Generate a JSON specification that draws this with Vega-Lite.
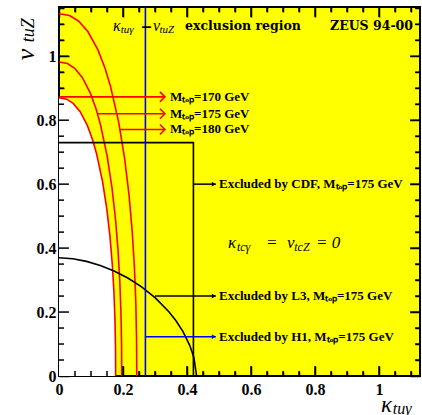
{
  "$schema": "https://vega.github.io/schema/vega-lite/v6.json",
  "width": 361,
  "height": 369,
  "autosize": {"type": "none"},
  "padding": {"left": 59, "top": 7, "right": 2, "bottom": 39},
  "background": "white",
  "config": {
    "view": {"fill": "#ffff00", "stroke": "black", "strokeWidth": 2},
    "axis": {
      "grid": false, "domain": false, "tickColor": "black", "tickWidth": 1.5,
      "labelFont": "Liberation Serif", "labelFontWeight": "bold", "labelFontSize": 16, "labelColor": "black",
      "labelFlush": false, "labelOverlap": false, "zindex": 1, "title": null, "format": "~g"
    }
  },
  "resolve": {"axis": {"x": "independent", "y": "independent"}},
  "datasets": {
    "mtop": [
      {"m": 170, "x": 0.177, "y": 0}, {"m": 170, "x": 0.1766, "y": 0.087}, {"m": 170, "x": 0.1749, "y": 0.174}, {"m": 170, "x": 0.1717, "y": 0.261}, {"m": 170, "x": 0.1666, "y": 0.348}, {"m": 170, "x": 0.1594, "y": 0.435}, {"m": 170, "x": 0.1494, "y": 0.522}, {"m": 170, "x": 0.1359, "y": 0.609}, {"m": 170, "x": 0.1171, "y": 0.696}, {"m": 170, "x": 0.1046, "y": 0.7395}, {"m": 170, "x": 0.0887, "y": 0.783}, {"m": 170, "x": 0.0661, "y": 0.8265}, {"m": 170, "x": 0.0443, "y": 0.8526}, {"m": 170, "x": 0.0241, "y": 0.8657}, {"m": 170, "x": 0, "y": 0.87},
      {"m": 175, "x": 0.196, "y": 0}, {"m": 175, "x": 0.1955, "y": 0.0982}, {"m": 175, "x": 0.1936, "y": 0.1964}, {"m": 175, "x": 0.1901, "y": 0.2946}, {"m": 175, "x": 0.1845, "y": 0.3928}, {"m": 175, "x": 0.1765, "y": 0.491}, {"m": 175, "x": 0.1655, "y": 0.5892}, {"m": 175, "x": 0.1505, "y": 0.6874}, {"m": 175, "x": 0.1297, "y": 0.7856}, {"m": 175, "x": 0.1159, "y": 0.8347}, {"m": 175, "x": 0.0982, "y": 0.8838}, {"m": 175, "x": 0.0732, "y": 0.9329}, {"m": 175, "x": 0.0491, "y": 0.9624}, {"m": 175, "x": 0.0266, "y": 0.9771}, {"m": 175, "x": 0, "y": 0.982},
      {"m": 180, "x": 0.243, "y": 0}, {"m": 180, "x": 0.2424, "y": 0.1133}, {"m": 180, "x": 0.2401, "y": 0.2266}, {"m": 180, "x": 0.2357, "y": 0.3399}, {"m": 180, "x": 0.2287, "y": 0.4532}, {"m": 180, "x": 0.2188, "y": 0.5665}, {"m": 180, "x": 0.2051, "y": 0.6798}, {"m": 180, "x": 0.1866, "y": 0.7931}, {"m": 180, "x": 0.1608, "y": 0.9064}, {"m": 180, "x": 0.1436, "y": 0.9631}, {"m": 180, "x": 0.1217, "y": 1.0197}, {"m": 180, "x": 0.0907, "y": 1.0764}, {"m": 180, "x": 0.0609, "y": 1.1103}, {"m": 180, "x": 0.033, "y": 1.1273}, {"m": 180, "x": 0, "y": 1.133}
    ],
    "l3": [
      {"x": 0, "y": 0.37}, {"x": 0.043, "y": 0.3667}, {"x": 0.086, "y": 0.3585}, {"x": 0.129, "y": 0.3458}, {"x": 0.172, "y": 0.3286}, {"x": 0.215, "y": 0.3065}, {"x": 0.258, "y": 0.2789}, {"x": 0.301, "y": 0.2443}, {"x": 0.344, "y": 0.2001}, {"x": 0.3655, "y": 0.1726}, {"x": 0.387, "y": 0.1395}, {"x": 0.4085, "y": 0.096}, {"x": 0.4214, "y": 0.0581}, {"x": 0.43, "y": 0}
    ],
    "cdf": [
      {"o": 0, "x": 0, "y": 0.73}, {"o": 1, "x": 0.42, "y": 0.73}, {"o": 2, "x": 0.42, "y": 0}
    ],
    "xticks": [
      {"x": 0.2, "y": 0, "y2": 0.031}, {"x": 0.4, "y": 0, "y2": 0.031}, {"x": 0.6, "y": 0, "y2": 0.031}, {"x": 0.8, "y": 0, "y2": 0.031}, {"x": 1, "y": 0, "y2": 0.031},
      {"x": 0.2, "y": 1.154, "y2": 1.123}, {"x": 0.4, "y": 1.154, "y2": 1.123}, {"x": 0.6, "y": 1.154, "y2": 1.123}, {"x": 0.8, "y": 1.154, "y2": 1.123}, {"x": 1, "y": 1.154, "y2": 1.123},
      {"x": 0.05, "y": 0, "y2": 0.0156}, {"x": 0.1, "y": 0, "y2": 0.0156}, {"x": 0.15, "y": 0, "y2": 0.0156}, {"x": 0.25, "y": 0, "y2": 0.0156}, {"x": 0.3, "y": 0, "y2": 0.0156}, {"x": 0.35, "y": 0, "y2": 0.0156}, {"x": 0.45, "y": 0, "y2": 0.0156}, {"x": 0.5, "y": 0, "y2": 0.0156}, {"x": 0.55, "y": 0, "y2": 0.0156}, {"x": 0.65, "y": 0, "y2": 0.0156}, {"x": 0.7, "y": 0, "y2": 0.0156}, {"x": 0.75, "y": 0, "y2": 0.0156}, {"x": 0.85, "y": 0, "y2": 0.0156}, {"x": 0.9, "y": 0, "y2": 0.0156}, {"x": 0.95, "y": 0, "y2": 0.0156}, {"x": 1.05, "y": 0, "y2": 0.0156}, {"x": 1.1, "y": 0, "y2": 0.0156},
      {"x": 0.05, "y": 1.154, "y2": 1.1384}, {"x": 0.1, "y": 1.154, "y2": 1.1384}, {"x": 0.15, "y": 1.154, "y2": 1.1384}, {"x": 0.25, "y": 1.154, "y2": 1.1384}, {"x": 0.3, "y": 1.154, "y2": 1.1384}, {"x": 0.35, "y": 1.154, "y2": 1.1384}, {"x": 0.45, "y": 1.154, "y2": 1.1384}, {"x": 0.5, "y": 1.154, "y2": 1.1384}, {"x": 0.55, "y": 1.154, "y2": 1.1384}, {"x": 0.65, "y": 1.154, "y2": 1.1384}, {"x": 0.7, "y": 1.154, "y2": 1.1384}, {"x": 0.75, "y": 1.154, "y2": 1.1384}, {"x": 0.85, "y": 1.154, "y2": 1.1384}, {"x": 0.9, "y": 1.154, "y2": 1.1384}, {"x": 0.95, "y": 1.154, "y2": 1.1384}, {"x": 1.05, "y": 1.154, "y2": 1.1384}, {"x": 1.1, "y": 1.154, "y2": 1.1384}
    ],
    "yticks": [
      {"y": 0.2, "x": 0, "x2": 0.031}, {"y": 0.4, "x": 0, "x2": 0.031}, {"y": 0.6, "x": 0, "x2": 0.031}, {"y": 0.8, "x": 0, "x2": 0.031}, {"y": 1, "x": 0, "x2": 0.031},
      {"y": 0.2, "x": 1.128, "x2": 1.097}, {"y": 0.4, "x": 1.128, "x2": 1.097}, {"y": 0.6, "x": 1.128, "x2": 1.097}, {"y": 0.8, "x": 1.128, "x2": 1.097}, {"y": 1, "x": 1.128, "x2": 1.097},
      {"y": 0.05, "x": 0, "x2": 0.0156}, {"y": 0.1, "x": 0, "x2": 0.0156}, {"y": 0.15, "x": 0, "x2": 0.0156}, {"y": 0.25, "x": 0, "x2": 0.0156}, {"y": 0.3, "x": 0, "x2": 0.0156}, {"y": 0.35, "x": 0, "x2": 0.0156}, {"y": 0.45, "x": 0, "x2": 0.0156}, {"y": 0.5, "x": 0, "x2": 0.0156}, {"y": 0.55, "x": 0, "x2": 0.0156}, {"y": 0.65, "x": 0, "x2": 0.0156}, {"y": 0.7, "x": 0, "x2": 0.0156}, {"y": 0.75, "x": 0, "x2": 0.0156}, {"y": 0.85, "x": 0, "x2": 0.0156}, {"y": 0.9, "x": 0, "x2": 0.0156}, {"y": 0.95, "x": 0, "x2": 0.0156}, {"y": 1.05, "x": 0, "x2": 0.0156}, {"y": 1.1, "x": 0, "x2": 0.0156}, {"y": 1.15, "x": 0, "x2": 0.0156},
      {"y": 0.05, "x": 1.128, "x2": 1.1124}, {"y": 0.1, "x": 1.128, "x2": 1.1124}, {"y": 0.15, "x": 1.128, "x2": 1.1124}, {"y": 0.25, "x": 1.128, "x2": 1.1124}, {"y": 0.3, "x": 1.128, "x2": 1.1124}, {"y": 0.35, "x": 1.128, "x2": 1.1124}, {"y": 0.45, "x": 1.128, "x2": 1.1124}, {"y": 0.5, "x": 1.128, "x2": 1.1124}, {"y": 0.55, "x": 1.128, "x2": 1.1124}, {"y": 0.65, "x": 1.128, "x2": 1.1124}, {"y": 0.7, "x": 1.128, "x2": 1.1124}, {"y": 0.75, "x": 1.128, "x2": 1.1124}, {"y": 0.85, "x": 1.128, "x2": 1.1124}, {"y": 0.9, "x": 1.128, "x2": 1.1124}, {"y": 0.95, "x": 1.128, "x2": 1.1124}, {"y": 1.05, "x": 1.128, "x2": 1.1124}, {"y": 1.1, "x": 1.128, "x2": 1.1124}, {"y": 1.15, "x": 1.128, "x2": 1.1124}
    ]
  },
  "encoding": {
    "x": {"field": "x", "type": "quantitative", "scale": {"domain": [0, 1.128], "nice": false, "zero": false}, "axis": null},
    "y": {"field": "y", "type": "quantitative", "scale": {"domain": [0, 1.154], "nice": false, "zero": false}, "axis": null}
  },
  "layer": [
    {
      "data": {"name": "mtop"},
      "transform": [{"filter": "datum.m == 170"}],
      "mark": {"type": "area", "color": "white"},
      "encoding": {
        "x": {"field": "x", "type": "quantitative", "scale": {"domain": [0, 1.128], "nice": false, "zero": false},
          "axis": {"orient": "bottom", "offset": -10, "values": [0, 0.2, 0.4, 0.6, 0.8, 1], "tickSize": 10, "labelPadding": 5}},
        "y": {"field": "y", "type": "quantitative", "scale": {"domain": [0, 1.154], "nice": false, "zero": false},
          "axis": {"orient": "left", "offset": -10, "values": [0, 0.2, 0.4, 0.6, 0.8, 1], "tickSize": 10, "labelPadding": 3}},
        "y2": {"datum": 0}
      }
    },
    {
      "data": {"name": "mtop"},
      "mark": {"type": "line", "color": "#ff0000", "strokeWidth": 1.6},
      "encoding": {
        "detail": {"field": "m"},
        "x": {"field": "x", "type": "quantitative", "scale": {"domain": [0, 1.128], "nice": false, "zero": false},
          "axis": {"orient": "bottom", "offset": -5, "labels": false, "values": [0.05, 0.1, 0.15, 0.25, 0.3, 0.35, 0.45, 0.5, 0.55, 0.65, 0.7, 0.75, 0.85, 0.9, 0.95, 1.05, 1.1], "tickSize": 5}},
        "y": {"field": "y", "type": "quantitative", "scale": {"domain": [0, 1.154], "nice": false, "zero": false},
          "axis": {"orient": "left", "offset": -5, "labels": false, "values": [0.05, 0.1, 0.15, 0.25, 0.3, 0.35, 0.45, 0.5, 0.55, 0.65, 0.7, 0.75, 0.85, 0.9, 0.95, 1.05, 1.1, 1.15], "tickSize": 5}}
      }
    },
    {
      "data": {"name": "l3"},
      "mark": {"type": "line", "color": "black", "strokeWidth": 1.6},
      "encoding": {
        "x": {"field": "x", "type": "quantitative", "scale": {"domain": [0, 1.128], "nice": false, "zero": false},
          "axis": {"orient": "top", "offset": -10, "labels": false, "values": [0, 0.2, 0.4, 0.6, 0.8, 1], "tickSize": 10}},
        "y": {"field": "y", "type": "quantitative", "scale": {"domain": [0, 1.154], "nice": false, "zero": false},
          "axis": {"orient": "right", "offset": -10, "labels": false, "values": [0, 0.2, 0.4, 0.6, 0.8, 1], "tickSize": 10}}
      }
    },
    {
      "data": {"name": "cdf"},
      "mark": {"type": "line", "color": "black", "strokeWidth": 1.6},
      "encoding": {
        "order": {"field": "o"},
        "x": {"field": "x", "type": "quantitative", "scale": {"domain": [0, 1.128], "nice": false, "zero": false},
          "axis": {"orient": "top", "offset": -5, "labels": false, "values": [0.05, 0.1, 0.15, 0.25, 0.3, 0.35, 0.45, 0.5, 0.55, 0.65, 0.7, 0.75, 0.85, 0.9, 0.95, 1.05, 1.1], "tickSize": 5}},
        "y": {"field": "y", "type": "quantitative", "scale": {"domain": [0, 1.154], "nice": false, "zero": false},
          "axis": {"orient": "right", "offset": -5, "labels": false, "values": [0.05, 0.1, 0.15, 0.25, 0.3, 0.35, 0.45, 0.5, 0.55, 0.65, 0.7, 0.75, 0.85, 0.9, 0.95, 1.05, 1.1, 1.15], "tickSize": 5}}
      }
    },
    {
      "data": {"name": "xticks"},
      "mark": {"type": "rule", "color": "black", "strokeWidth": 1.5},
      "encoding": {"y2": {"field": "y2"}}
    },
    {
      "data": {"name": "yticks"},
      "mark": {"type": "rule", "color": "black", "strokeWidth": 1.5},
      "encoding": {"x2": {"field": "x2"}}
    },
    {
      "data": {"values": [{"x": 0.27, "y": 0, "y2": 1.154}]},
      "mark": {"type": "rule", "color": "#0000ff", "strokeWidth": 1.6},
      "encoding": {"y2": {"field": "y2"}}
    },
    {
      "data": {"values": [{"x": 0, "x2": 0.331, "y": 0.873}, {"x": 0.12, "x2": 0.331, "y": 0.82}, {"x": 0.19, "x2": 0.331, "y": 0.771}]},
      "layer": [
        {"mark": {"type": "rule", "color": "#ff0000", "strokeWidth": 1.6}, "encoding": {"x2": {"field": "x2"}}},
        {"mark": {"type": "point", "shape": "M-1,-1L0,0L-1,1", "filled": false, "stroke": "#ff0000", "strokeWidth": 1.6, "size": 100, "opacity": 1},
          "encoding": {"x": {"field": "x2", "type": "quantitative", "axis": null}}}
      ]
    },
    {
      "data": {"values": [{"x": 0.42, "x2": 0.49, "y": 0.6}, {"x": 0.3, "x2": 0.49, "y": 0.25}]},
      "layer": [
        {"mark": {"type": "rule", "color": "black", "strokeWidth": 1.5}, "encoding": {"x2": {"field": "x2"}}},
        {"mark": {"type": "point", "shape": "M-1,-0.6L0,0L-1,0.6Z", "filled": true, "color": "black", "size": 64, "opacity": 1},
          "encoding": {"x": {"field": "x2", "type": "quantitative", "axis": null}}}
      ]
    },
    {
      "data": {"values": [{"x": 0.27, "x2": 0.49, "y": 0.123}]},
      "layer": [
        {"mark": {"type": "rule", "color": "#0000ff", "strokeWidth": 1.5}, "encoding": {"x2": {"field": "x2"}}},
        {"mark": {"type": "point", "shape": "M-1,-0.6L0,0L-1,0.6Z", "filled": true, "color": "#0000ff", "size": 64, "opacity": 1},
          "encoding": {"x": {"field": "x2", "type": "quantitative", "axis": null}}}
      ]
    },
    {
      "data": {"values": [
        {"x": 0.347, "y": 0.873, "t": "Mₜₒₚ=170 GeV"},
        {"x": 0.347, "y": 0.82, "t": "Mₜₒₚ=175 GeV"},
        {"x": 0.347, "y": 0.771, "t": "Mₜₒₚ=180 GeV"},
        {"x": 0.5, "y": 0.6, "t": "Excluded by CDF, Mₜₒₚ=175 GeV"},
        {"x": 0.5, "y": 0.25, "t": "Excluded by L3,  Mₜₒₚ=175 GeV"},
        {"x": 0.5, "y": 0.123, "t": "Excluded by H1,  Mₜₒₚ=175 GeV"}
      ]},
      "mark": {"type": "text", "align": "left", "baseline": "middle", "font": "Liberation Serif", "fontWeight": "bold", "fontSize": 13, "color": "black"},
      "encoding": {"text": {"field": "t"}}
    },
    {
      "data": {"values": [
        {"x": 0.394, "y": 1.094, "t": "exclusion region"},
        {"x": 0.847, "y": 1.094, "t": "ZEUS 94-00"}
      ]},
      "mark": {"type": "text", "align": "left", "baseline": "middle", "font": "DejaVu Serif", "fontWeight": "bold", "fontSize": 12.5, "color": "black"},
      "encoding": {"text": {"field": "t"}}
    },
    {
      "data": {"values": [{"x": 0.258, "y": 1.092, "t": "–"}]},
      "mark": {"type": "text", "align": "left", "baseline": "middle", "font": "Liberation Sans", "fontWeight": "bold", "fontSize": 18, "color": "black"},
      "encoding": {"text": {"field": "t"}}
    },
    {
      "data": {"values": [{"x": 0.169, "y": 1.094, "t": "κ"}, {"x": 0.294, "y": 1.094, "t": "v"}]},
      "mark": {"type": "text", "align": "left", "baseline": "middle", "font": "Liberation Serif", "fontStyle": "italic", "fontSize": 16, "color": "black"},
      "encoding": {"text": {"field": "t"}}
    },
    {
      "data": {"values": [{"x": 0.193, "y": 1.082, "t": "tuγ"}, {"x": 0.314, "y": 1.082, "t": "tuZ"}]},
      "mark": {"type": "text", "align": "left", "baseline": "middle", "font": "Liberation Serif", "fontStyle": "italic", "fontSize": 11, "color": "black"},
      "encoding": {"text": {"field": "t"}}
    },
    {
      "data": {"values": [{"x": 0.528, "y": 0.416, "t": "κ"}, {"x": 0.647, "y": 0.416, "t": "="}, {"x": 0.7125, "y": 0.416, "t": "v"}, {"x": 0.803, "y": 0.416, "t": "= 0"}]},
      "mark": {"type": "text", "align": "left", "baseline": "middle", "font": "Liberation Serif", "fontStyle": "italic", "fontSize": 17, "color": "black"},
      "encoding": {"text": {"field": "t"}}
    },
    {
      "data": {"values": [{"x": 0.556, "y": 0.402, "t": "tcγ"}, {"x": 0.735, "y": 0.402, "t": "tcZ"}]},
      "mark": {"type": "text", "align": "left", "baseline": "middle", "font": "Liberation Serif", "fontStyle": "italic", "fontSize": 12, "color": "black"},
      "encoding": {"text": {"field": "t"}}
    },
    {
      "data": {"values": [{"x": 1.006, "y": -0.092, "t": "κ"}]},
      "mark": {"type": "text", "align": "left", "baseline": "middle", "font": "Liberation Serif", "fontStyle": "italic", "fontSize": 23, "color": "black"},
      "encoding": {"text": {"field": "t"}}
    },
    {
      "data": {"values": [{"x": 1.043, "y": -0.102, "t": "tuγ"}]},
      "mark": {"type": "text", "align": "left", "baseline": "middle", "font": "Liberation Serif", "fontStyle": "italic", "fontSize": 16, "color": "black"},
      "encoding": {"text": {"field": "t"}}
    },
    {
      "data": {"values": [{"x": -0.103, "y": 0.9875, "t": "v"}]},
      "mark": {"type": "text", "align": "left", "baseline": "middle", "angle": 270, "font": "Liberation Serif", "fontStyle": "italic", "fontSize": 26, "color": "black"},
      "encoding": {"text": {"field": "t"}}
    },
    {
      "data": {"values": [{"x": -0.094, "y": 1.044, "t": "tuZ"}]},
      "mark": {"type": "text", "align": "left", "baseline": "middle", "angle": 270, "font": "Liberation Serif", "fontStyle": "italic", "fontSize": 18, "color": "black"},
      "encoding": {"text": {"field": "t"}}
    }
  ]
}
